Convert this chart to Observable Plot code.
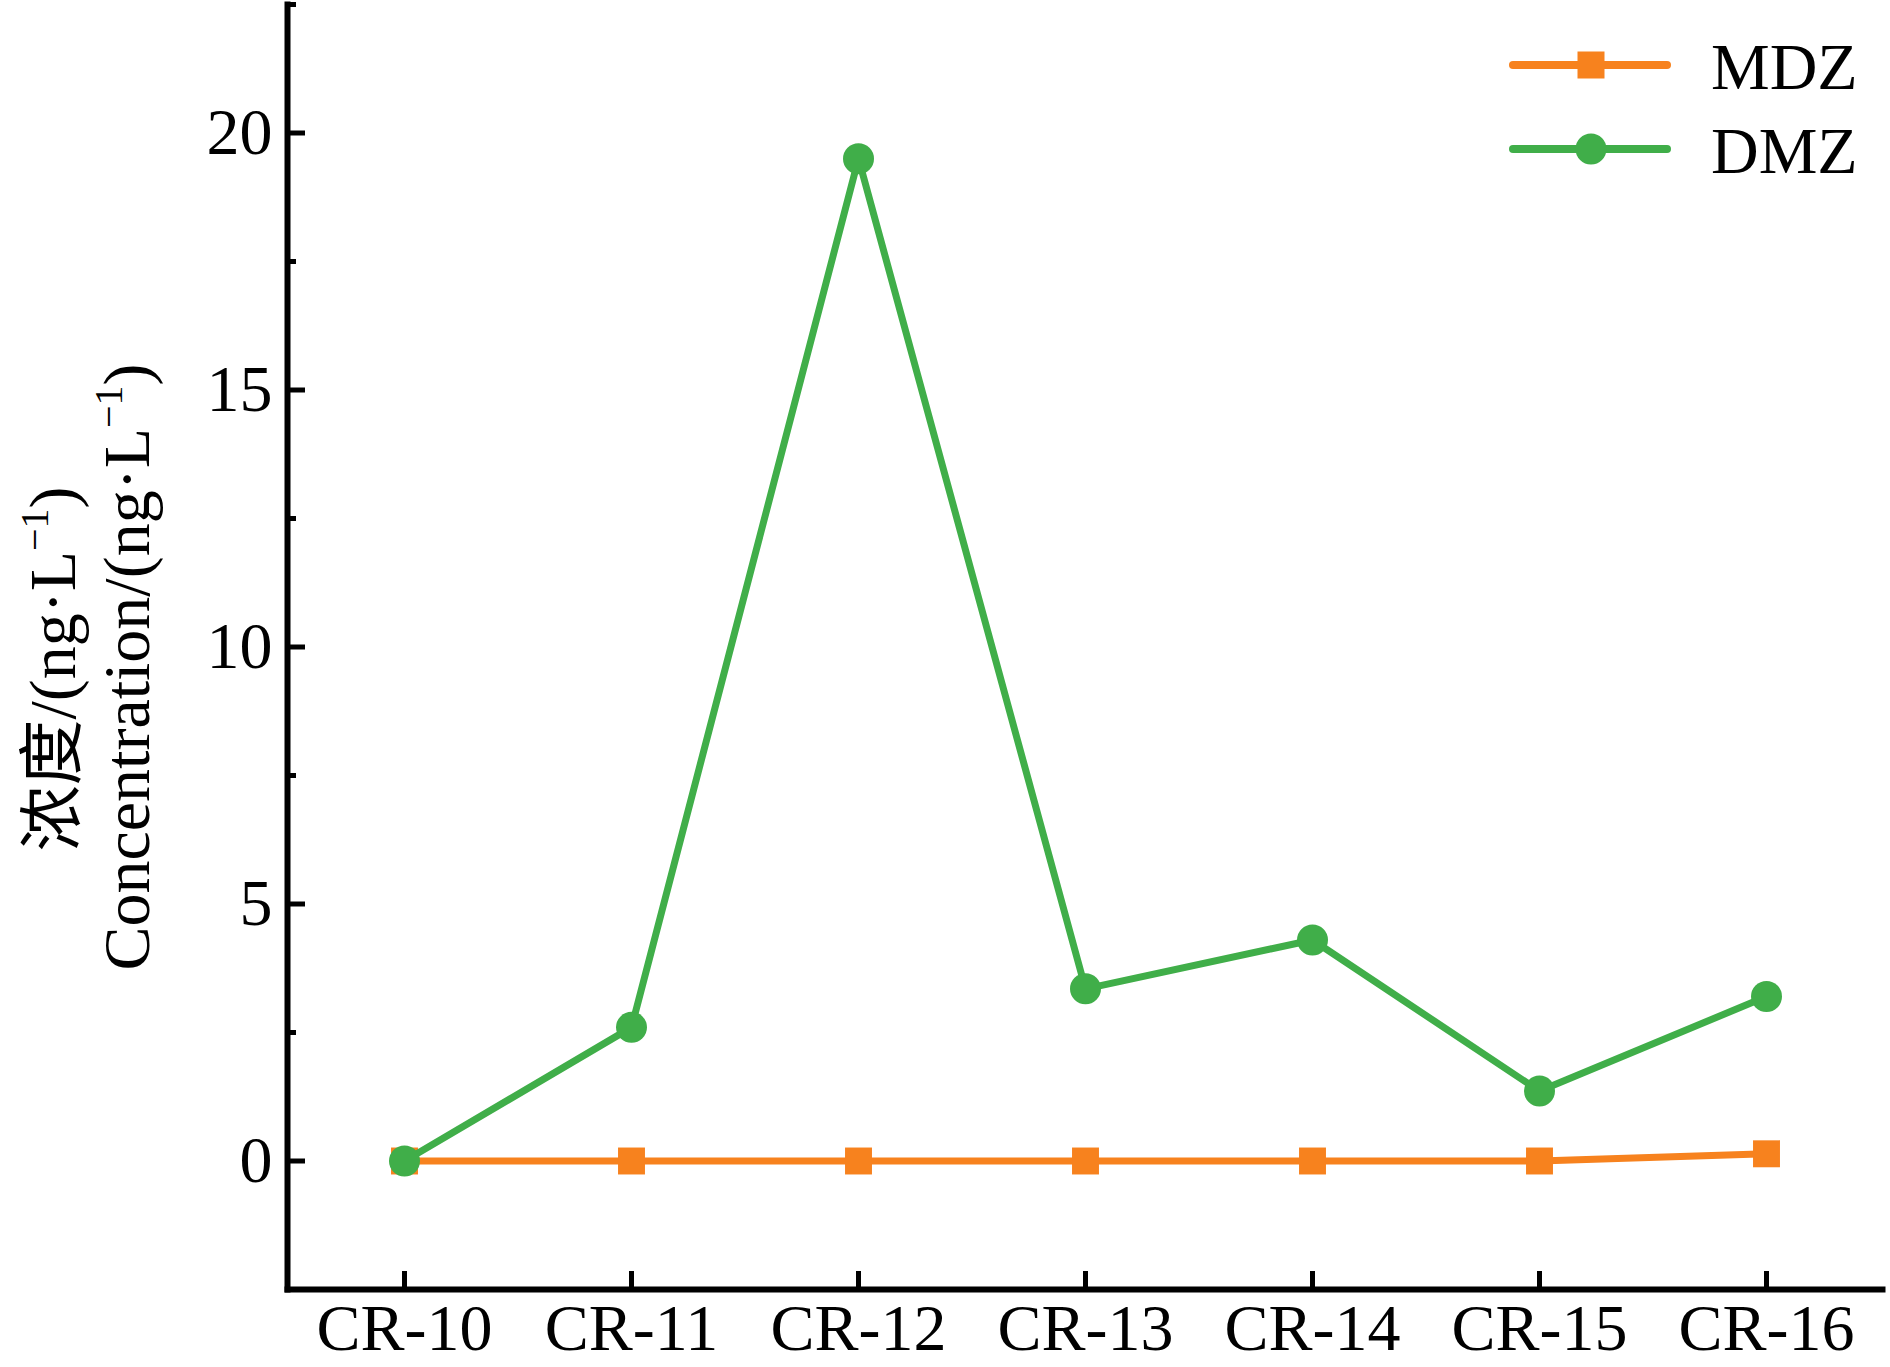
<!DOCTYPE html>
<html>
<head>
<meta charset="utf-8">
<script src="https://cdn.jsdelivr.net/npm/d3@7"></script>
<script src="https://cdn.jsdelivr.net/npm/@observablehq/plot@0.6"></script>
<style>
  html, body { margin: 0; padding: 0; background: #fff; }
  #wrap { position: relative; width: 1890px; height: 1367px; }
  #wrap svg { display: block; }
  #legend { position: absolute; left: 0; top: 0; }
</style>
</head>
<body>
<div id="wrap"></div>
<script>
// ---- data ----
const sites = ["CR-10", "CR-11", "CR-12", "CR-13", "CR-14", "CR-15", "CR-16"];
const mdzValues = [0, 0, 0, 0, 0, 0, 0.14];
const dmzValues = [0, 2.6, 19.5, 3.35, 4.3, 1.36, 3.2];
const seriesNames = ["MDZ", "DMZ"];
const seriesColors = ["#f7821e", "#40ae49"];
const seriesSymbols = ["square", "circle"];
const yMajorTicks = [0, 5, 10, 15, 20];
const yMinorTicks = [-2.5, 2.5, 7.5, 12.5, 17.5, 22.5];
const yTitleCN = "浓度/(ng·L";
const yTitleEN = "Concentration/(ng·L";

const rows = [];
sites.forEach((s, i) => {
  rows.push({site: s, value: mdzValues[i], series: "MDZ"});
});
sites.forEach((s, i) => {
  rows.push({site: s, value: dmzValues[i], series: "DMZ"});
});

const FONT = "'Liberation Serif', 'Times New Roman', 'Noto Sans CJK SC', serif";
const W = 1890, H = 1367;
const mL = 287, mR = 8, mT = 4, mB = 78;
const plotW = W - mL - mR, plotH = H - mT - mB;
const majorLen = 18, minorLen = 9;

const chart = Plot.plot({
  width: W,
  height: H,
  marginLeft: mL,
  marginRight: mR,
  marginTop: mT,
  marginBottom: mB,
  style: {fontFamily: FONT, fontSize: "66px", color: "#000", background: "#fff"},
  x: {type: "point", domain: sites, padding: 0.5},
  y: {domain: [-2.5, 22.5]},
  marks: [
    // tick labels
    Plot.axisY({ticks: yMajorTicks, tickSize: 0, tickPadding: 15, fontSize: 66, label: null}),
    Plot.axisX({tickSize: 0, tickPadding: 14, fontSize: 66, label: null}),
    // inward ticks
    Plot.tickY(yMajorTicks, {y: d => d, stroke: "#000", strokeWidth: 5, insetRight: plotW - majorLen}),
    Plot.tickY(yMinorTicks, {y: d => d, stroke: "#000", strokeWidth: 5, insetRight: plotW - minorLen}),
    Plot.tickX(sites, {x: d => d, stroke: "#000", strokeWidth: 5, insetTop: plotH - majorLen}),
    // axis lines
    Plot.frame({anchor: "left", stroke: "#000", strokeWidth: 6}),
    Plot.frame({anchor: "bottom", stroke: "#000", strokeWidth: 6}),
    // series
    Plot.line(rows.filter(d => d.series === "MDZ"), {x: "site", y: "value", stroke: seriesColors[0], strokeWidth: 7}),
    Plot.dot(rows.filter(d => d.series === "MDZ"), {x: "site", y: "value", fill: seriesColors[0], symbol: "square", r: 15.2}),
    Plot.line(rows.filter(d => d.series === "DMZ"), {x: "site", y: "value", stroke: seriesColors[1], strokeWidth: 7}),
    Plot.dot(rows.filter(d => d.series === "DMZ"), {x: "site", y: "value", fill: seriesColors[1], symbol: "circle", r: 15.5})
  ]
});

document.getElementById("wrap").appendChild(chart);

// y-axis title (two lines, rotated)
const svg = d3.select(chart);
function addTitle(str, x, y) {
  const t = svg.append("text")
    .attr("transform", `translate(${x},${y}) rotate(-90)`)
    .attr("text-anchor", "middle")
    .attr("font-family", FONT)
    .attr("font-size", 66)
    .attr("fill", "#000");
  t.append("tspan").text(str);
  t.append("tspan").attr("font-size", 40).attr("dy", -27).text("−1");
  t.append("tspan").attr("dy", 27).text(")");
}
addTitle(yTitleCN, 75, 669);
addTitle(yTitleEN, 149, 667);

// legend (top-right, inside plot)
const leg = d3.select("#wrap").append("svg")
  .attr("id", "legend")
  .attr("width", W).attr("height", 220);
seriesNames.forEach((name, i) => {
  const cy = 65 + i * 84;
  const g = leg.append("g");
  g.append("line")
    .attr("x1", 1513).attr("x2", 1667).attr("y1", cy).attr("y2", cy)
    .attr("stroke", seriesColors[i]).attr("stroke-width", 8).attr("stroke-linecap", "round");
  if (seriesSymbols[i] === "square") {
    g.append("rect").attr("x", 1591 - 13.5).attr("y", cy - 13.5).attr("width", 27).attr("height", 27).attr("fill", seriesColors[i]);
  } else {
    g.append("circle").attr("cx", 1591).attr("cy", cy).attr("r", 15.5).attr("fill", seriesColors[i]);
  }
  g.append("text")
    .attr("x", 1711).attr("y", cy + 24)
    .attr("font-family", FONT).attr("font-size", 66).attr("fill", "#000")
    .text(name);
});
</script>
</body>
</html>
